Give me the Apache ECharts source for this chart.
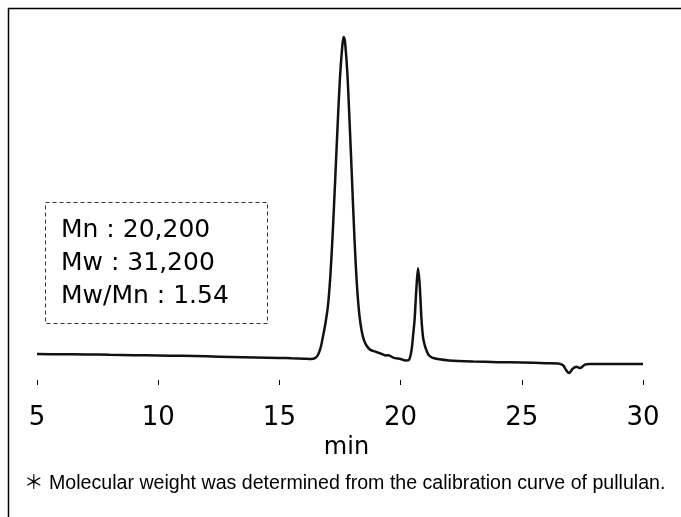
<!DOCTYPE html>
<html>
<head>
<meta charset="utf-8">
<script src="https://cdn.jsdelivr.net/npm/echarts@6/dist/echarts.min.js"></script>
<style>
html,body{margin:0;padding:0;background:#fff;}
#chart{width:681px;height:517px;}
</style>
</head>
<body>
<div id="chart"></div>
<script>
// Retention time (min)
const times = [5, 6, 7, 8, 9, 10, 11, 12, 13, 14, 15, 15.5, 16, 16.3, 16.5, 16.6, 16.7, 16.8, 16.9, 17.0,
  17.1, 17.2, 17.3, 17.4, 17.5, 17.6, 17.65, 17.7, 17.8, 17.9, 18.0, 18.1, 18.2, 18.3, 18.4, 18.5,
  18.6, 18.75, 19.0, 19.2, 19.4, 19.5, 19.7, 20.0, 20.2, 20.35, 20.45, 20.52, 20.58, 20.65, 20.72,
  20.79, 20.86, 20.93, 21.0, 21.06, 21.15, 21.3, 21.6, 22, 23, 24, 25, 26, 26.5, 26.7, 26.85, 26.95,
  27.1, 27.25, 27.4, 27.6, 27.8, 28.5, 30];
// Detector signal (arbitrary units)
const signal = [7.4, 7.35, 7.3, 7.2, 7.1, 7.0, 6.9, 6.75, 6.6, 6.45, 6.3, 6.2, 6.1, 6.0, 6.4, 7.3, 9.2, 12.5, 16.2, 21.0,
  29.5, 42.0, 57.0, 72.5, 86.5, 95.8, 98.0, 97.0, 88.0, 73.0, 56.5, 40.0, 27.0, 18.5, 13.8, 11.2,
  9.8, 8.6, 8.0, 7.5, 7.0, 7.1, 6.4, 6.0, 5.6, 5.8, 8.5, 13.0, 17.5, 26.0, 31.9,
  27.0, 17.5, 12.0, 9.8, 8.6, 7.2, 6.4, 5.9, 5.6, 5.3, 5.1, 5.0, 4.8, 4.7, 4.2, 2.6, 2.0,
  3.2, 3.8, 3.4, 4.4, 4.6, 4.6, 4.6];
const xTicks = [5, 10, 15, 20, 25, 30];
const statsLines = ['Mn : 20,200', 'Mw : 31,200', 'Mw/Mn : 1.54'];
const footnote = '＊ Molecular weight was determined from the calibration curve of pullulan.';
const xName = 'min';

const seriesData = times.map((t, i) => [t, signal[i]]);

const chart = echarts.init(document.getElementById('chart'), null, {renderer: 'canvas'});

const graphics = [
  {type: 'polyline', silent: true, shape: {points: [[8.5, 517], [8.5, 8.5], [681, 8.5]]},
   style: {stroke: '#000', lineWidth: 1.5, fill: null}},
  {type: 'rect', silent: true, shape: {x: 45.5, y: 202.5, width: 222, height: 121},
   style: {stroke: '#333', lineWidth: 1, lineDash: [4, 3], fill: null}}
];
statsLines.forEach((s, i) => {
  graphics.push({type: 'text', left: 61, top: 218 + i * 33, silent: true,
    style: {text: s, font: '25px "DejaVu Sans"', fill: '#000'}});
});
graphics.push({type: 'text', left: 24, top: 474, silent: true,
  style: {text: footnote, font: '19.6px "Liberation Sans", "Noto Sans CJK JP"', fill: '#000'}});

chart.setOption({
  animation: false,
  backgroundColor: '#fff',
  grid: {left: 37, right: 38, top: 30, bottom: 127, containLabel: false},
  xAxis: {
    type: 'value', min: xTicks[0], max: xTicks[xTicks.length - 1], interval: 5,
    name: xName, nameLocation: 'middle', nameGap: 34,
    nameTextStyle: {fontSize: 24, fontFamily: 'DejaVu Sans', color: '#000', padding: [0, 0, 0, 13]},
    axisLine: {show: false},
    axisTick: {show: true, length: 5, lineStyle: {color: '#000', width: 1}},
    axisLabel: {fontSize: 26, fontFamily: 'DejaVu Sans', color: '#000', margin: 15,
      showMinLabel: true, showMaxLabel: true},
    splitLine: {show: false}
  },
  yAxis: {
    type: 'value', min: -2.86, max: 100, show: false, splitLine: {show: false}
  },
  series: [{
    type: 'line', data: seriesData, showSymbol: false, symbol: 'none', smooth: 0.3,
    lineStyle: {color: '#111', width: 2.5}
  }],
  graphic: graphics
});
</script>
</body>
</html>
